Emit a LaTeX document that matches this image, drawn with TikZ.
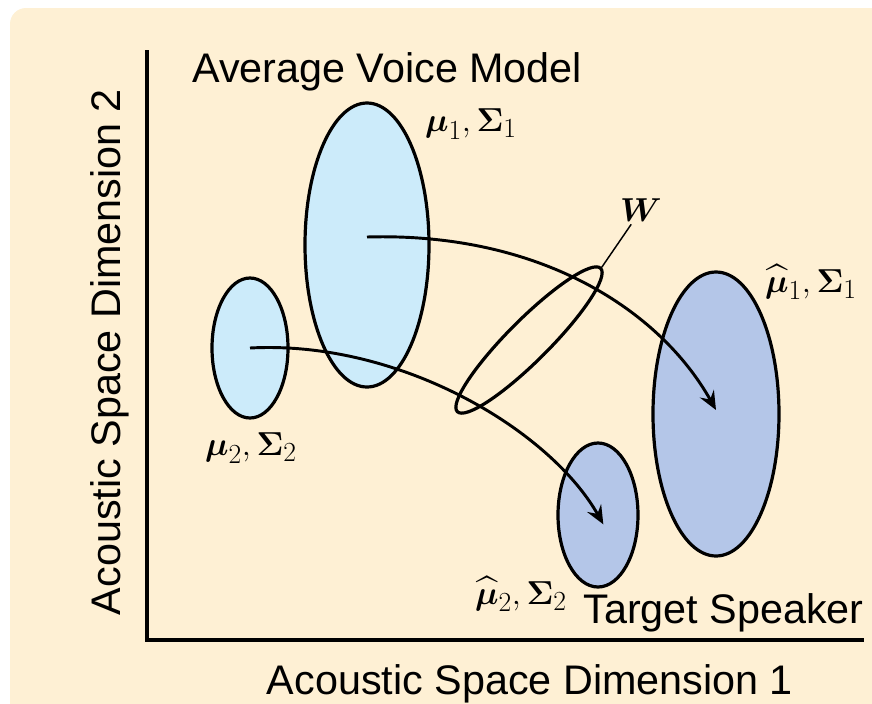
\documentclass[tikz,border=0pt]{standalone}
\usepackage{amsmath,amssymb}
\usepackage{fontspec}
\setmainfont{Liberation Sans}
\usetikzlibrary{arrows.meta,positioning,calc,shapes.geometric}
\definecolor{Cream}{HTML}{FEF0D4}
\definecolor{Sky}{HTML}{CCEBFA}
\definecolor{Slate}{HTML}{B4C6E8}

\begin{document}
\begin{tikzpicture}[x=0.75pt,y=-0.75pt,
    gauss/.style={ellipse,draw=black,line width=2.4pt,inner sep=0pt},
    maplink/.style={-{Stealth[length=14pt,width=12pt,inset=5pt]},line width=2.2pt},
    axislab/.style={font=\fontsize{31}{37}\selectfont,inner sep=0pt},
    meanlab/.style={font=\fontsize{29}{33}\selectfont,inner sep=0pt}]
        \path[use as bounding box] (0,0) rectangle (872,704);
        \fill[Cream,rounded corners=12pt] (10,8) rectangle (900,730);
        % gaussians of the average voice and of the target speaker
        \node[gauss,fill=Sky,minimum width=93pt,minimum height=213pt] (avm1) at (367,245) {};
        \node[gauss,fill=Sky,minimum width=57pt,minimum height=105pt] (avm2) at (250,348) {};
        \node[gauss,fill=Slate,minimum width=94.5pt,minimum height=213pt] (tgt1) at (716,414) {};
        \node[gauss,fill=Slate,minimum width=60pt,minimum height=108pt] (tgt2) at (598,515) {};
        \node[gauss,rotate=45,minimum width=152pt,minimum height=31pt] (wring) at (529,340) {};
        \node[meanlab,inner sep=2pt] (wlab) at (641,210) {$\boldsymbol{W}$};
        \draw[line width=1.1pt] (wlab) -- (wring.east);
        % mapping of the means
        \draw[maplink] ([yshift=6pt]avm1.center) .. controls (540,232) and (660,310) .. ([yshift=3pt]tgt1.center);
        \draw[maplink] (avm2.center) .. controls (400,340) and (550,430) .. ([shift={(4pt,-7pt)}]tgt2.center);
        % axes
        \coordinate (ytop) at (147,50);
        \coordinate (origin) at (147,640);
        \coordinate (xend) at (864,640);
        \draw[line width=3pt] (ytop) -- (origin) -- (xend);
        \node[axislab,anchor=base] (xlab) at (530,694) {Acoustic Space Dimension 1};
        \node[axislab,anchor=base,rotate=90] (ylab) at (120,352) {Acoustic Space Dimension 2};
        \node[axislab,anchor=base west] (avmlab) at (192,82) {Average Voice Model};
        \node[axislab,anchor=base east] (tgtlab) at (864,623) {Target Speaker};
        % labels of the means
        \node[meanlab] (m1lab) at (471,124) {$\boldsymbol{\mu}_1,\boldsymbol{\Sigma}_1$};
        \node[meanlab] (m2lab) at (251,448) {$\boldsymbol{\mu}_2,\boldsymbol{\Sigma}_2$};
        \node[meanlab] (h1lab) at (811,282) {$\widehat{\boldsymbol{\mu}}_1,\boldsymbol{\Sigma}_1$};
        \node[meanlab] (h2lab) at (521,594) {$\widehat{\boldsymbol{\mu}}_2,\boldsymbol{\Sigma}_2$};
      \end{tikzpicture}
\end{document}
